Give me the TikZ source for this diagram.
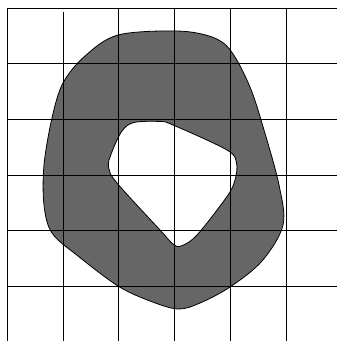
\documentclass[tikz,border=0pt]{standalone}
\definecolor{shapegray}{RGB}{102,102,102}
\tikzset{
  gridline/.style={black, line width=1pt},
  outline/.style={black, line width=0.8pt},
}
\begin{document}
\begin{tikzpicture}[x=1pt,y=-1pt]
\useasboundingbox (0,0) rectangle (337,341);
\def\outer{plot[smooth cycle, tension=0.55] coordinates {
 (118,35) (177,31) (212,37) (231,51) (250,87) (264,130) (279,185)
 (283,225) (262,261) (230,287) (200,303) (178,309) (150,301) (118,286)
 (78,256) (52,233) (44,205) (44,165) (52,118) (63,83) (85,56)}}
\def\inner{plot[smooth cycle, tension=0.55] coordinates {
 (122,131) (134,122.5) (160,121.5) (173,125) (227,150) (236.5,163) (235,180)
 (227,196.5) (197,235) (181,246) (173,244) (160,230) (117,183) (108.5,167)
 (111.5,153)}}
\fill[shapegray, even odd rule] \outer \inner;
\draw[outline] \outer;
\draw[outline] \inner;
\foreach \y [count=\i] in {8,63.5,119.3,175,230.8,286.6}
  \draw[gridline] (7.3,\y) coordinate (h\i) -- (337,\y);
\draw[gridline] (7.3,8) coordinate (v1) -- (7.3,341);
\draw[gridline] (63.1,11.5) coordinate (v2) -- (63.1,341);
\foreach \x [count=\i from 3] in {118.9,174.7,230.5,286.3}
  \draw[gridline] (\x,8) coordinate (v\i) -- (\x,341);
\end{tikzpicture}
\end{document}
